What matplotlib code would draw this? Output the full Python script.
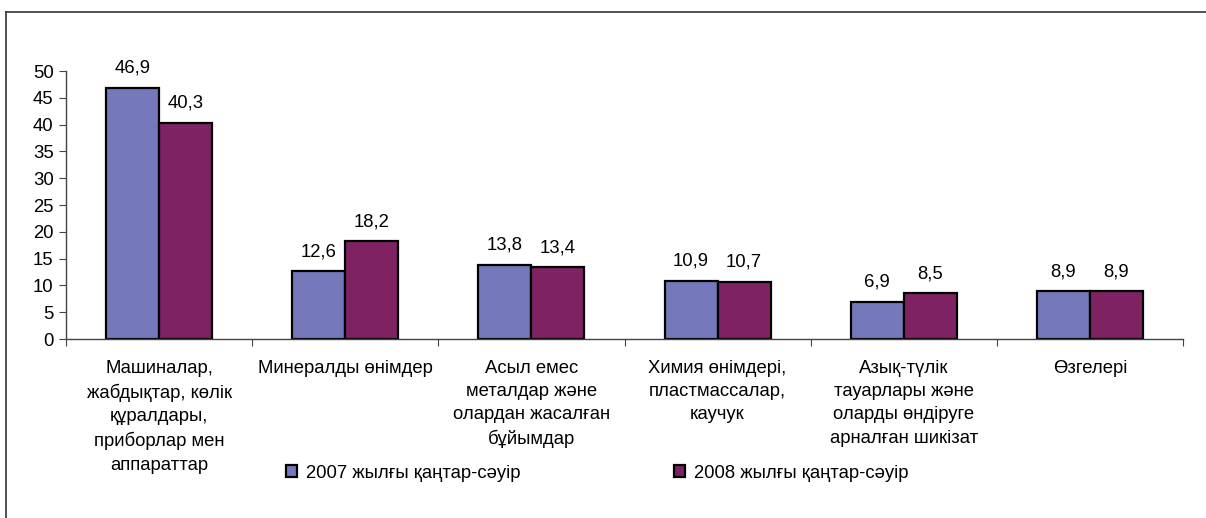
import numpy as np
import matplotlib.pyplot as plt
from matplotlib.patches import Patch
from matplotlib.lines import Line2D

categories = [
    "Машиналар,\nжабдықтар, көлік\nқұралдары,\nприборлар мен\nаппараттар",
    "Минералды өнімдер",
    "Асыл емес\nметалдар және\nолардан жасалған\nбұйымдар",
    "Химия өнімдері,\nпластмассалар,\nкаучук",
    "Азық-түлік\nтауарлары және\nоларды өндіруге\nарналған шикізат",
    "Өзгелері",
]
values_2007 = [46.9, 12.6, 13.8, 10.9, 6.9, 8.9]
values_2008 = [40.3, 18.2, 13.4, 10.7, 8.5, 8.9]
series_names = ["2007 жылғы қаңтар-сәуір", "2008 жылғы қаңтар-сәуір"]
yticks = list(range(0, 55, 5))

plt.rcParams['font.family'] = ['Liberation Sans', 'DejaVu Sans']
plt.rcParams['font.size'] = 13.3

fig = plt.figure(figsize=(12.06, 5.18), dpi=100)
ax = fig.add_axes([66 / 1206, 1 - 339 / 518, (1183 - 66) / 1206, (339 - 71) / 518])

blue = "#7578BB"
purple = "#7E2262"
w = 0.285
x = np.arange(len(categories))
b1 = ax.bar(x - w / 2, values_2007, w, color=blue, edgecolor="black", linewidth=1.6)
b2 = ax.bar(x + w / 2, values_2008, w, color=purple, edgecolor="black", linewidth=1.6)

for bars, vals in ((b1, values_2007), (b2, values_2008)):
    for rect, v in zip(bars, vals):
        ax.annotate(f"{v:.1f}".replace(".", ","),
                    (rect.get_x() + rect.get_width() / 2, rect.get_height()),
                    xytext=(0, 8), textcoords="offset points",
                    ha="center", va="bottom")

ax.set_xlim(-0.5, len(categories) - 0.5)
ax.set_ylim(0, 50)
ax.set_yticks(yticks)
ax.set_xticks(np.arange(len(categories) + 1) - 0.5)
ax.set_xticklabels([])
ax.set_xticks(x, minor=True)
ax.set_xticklabels(categories, minor=True, linespacing=1.48, va="top")
ax.tick_params(axis="x", which="minor", length=0, pad=15)
ax.tick_params(axis="x", which="major", length=5, color="#444444", direction="out")
ax.tick_params(axis="y", length=5, color="#444444", pad=4)

for s in ("top", "right"):
    ax.spines[s].set_visible(False)
for s in ("left", "bottom"):
    ax.spines[s].set_color("#444444")
    ax.spines[s].set_linewidth(1.0)

handles = [Patch(facecolor=blue, edgecolor="black", linewidth=1.6),
           Patch(facecolor=purple, edgecolor="black", linewidth=1.6)]
fig.legend(handles, series_names, loc="center left",
           bbox_to_anchor=(286 / 1206, 1 - 473 / 518), ncol=2, frameon=False,
           handlelength=0.6, handleheight=0.6, handletextpad=0.5,
           columnspacing=8.3, borderpad=0, borderaxespad=0)

# outer chart frame (left and top edges visible)
fig.add_artist(Line2D([6 / 1206, 6 / 1206], [0, 1 - 12 / 518],
                      transform=fig.transFigure, color="#333333", linewidth=1.2))
fig.add_artist(Line2D([6 / 1206, 1], [1 - 12 / 518, 1 - 12 / 518],
                      transform=fig.transFigure, color="#333333", linewidth=1.2))

fig.savefig("out.png", dpi=100)
